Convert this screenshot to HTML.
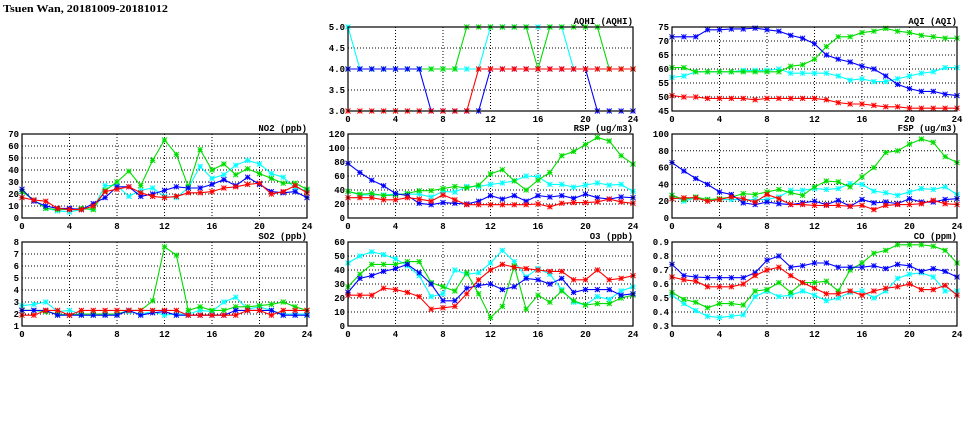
<!DOCTYPE html>
<html><head><meta charset="utf-8"><style>
html,body{margin:0;padding:0;background:#fff;width:975px;height:447px;overflow:hidden}
svg{display:block}
text{font-family:"Liberation Mono",monospace;font-weight:bold;fill:#000}
</style></head><body>
<svg id="s" width="975" height="447" xmlns="http://www.w3.org/2000/svg">
<text x="3" y="12" font-size="11" style="font-family:'Liberation Serif',serif" textLength="165" lengthAdjust="spacingAndGlyphs">Tsuen Wan, 20181009-20181012</text>
</svg>
<script>
const C={b:"#0000ff",c:"#00ffff",g:"#00dd00",r:"#ff0000"};
const P=[
{t:"AQHI (AQHI)",x:348,y:27,min:3,max:5,step:0.5,dec:1,d:{
c:[5,4,4,4,4,4,4,4,4,4,4,4,5,5,5,5,5,5,5,4,4,4,4,4,4],
g:[4,4,4,4,4,4,4,4,4,4,5,5,5,5,5,5,4,5,5,5,5,5,4,4,4],
b:[4,4,4,4,4,4,4,3,3,3,3,3,4,4,4,4,4,4,4,4,4,3,3,3,3],
r:[3,3,3,3,3,3,3,3,3,3,3,4,4,4,4,4,4,4,4,4,4,4,4,4,4]}},
{t:"AQI (AQI)",x:672,y:27,min:45,max:75,step:5,dec:0,d:{
c:[57,57.5,59,59,59,59,59.5,59.5,59.5,60,58.5,58.5,58.5,58.5,57.5,56,56.5,55.5,55.5,56.5,57.5,58.5,59,60.5,60.5],
g:[60.5,60.5,59,59,59,59,59,59,59,59,61,61.5,63.5,68,71.5,71.5,73,73.5,74.5,73.5,73,72,71.5,71,71],
b:[71.5,71.5,71.5,74,74,74.3,74.3,74.6,74,73.5,72,71,69,65,63.5,62.5,61,60,57.5,54.5,53,52,52,51,50.5],
r:[50.5,50,50,49.5,49.5,49.5,49.5,49,49.5,49.5,49.5,49.5,49.5,49,48,47.5,47.5,47,46.5,46.5,46,46,46,46,46]}},
{t:"NO2 (ppb)",x:22,y:134,min:0,max:70,step:10,dec:0,d:{
c:[22,15,8,6,5,7,8,27,27,18,23,25,18,17,25,43,33,36,44,48,45,37,34,25,23],
g:[22,15,8,7,7,8,7,23,30,39,27,48,65,53,26,57,40,45,36,41,37,33,29,29,24],
b:[24,14,10,8,8,7,12,17,26,26,18,20,23,26,25,25,28,32,27,34,28,22,21,22,17],
r:[17,15,14,8,7,7,10,22,24,26,21,18,17,18,21,21,22,25,26,28,29,20,22,27,21]}},
{t:"RSP (ug/m3)",x:348,y:134,min:0,max:120,step:20,dec:0,d:{
c:[38,33,33,33,34,34,34,30,38,37,45,45,48,50,53,60,59,48,48,44,47,50,47,48,38],
g:[38,34,35,32,33,35,39,39,42,45,43,47,63,69,53,40,54,65,89,95,105,115,110,89,77],
b:[78,65,54,46,35,32,21,19,22,21,20,24,32,27,32,24,32,30,32,28,34,29,27,30,29],
r:[29,29,29,26,26,29,27,24,33,26,19,19,19,19,19,19,20,16,21,22,22,23,27,23,21]}},
{t:"FSP (ug/m3)",x:672,y:134,min:0,max:100,step:20,dec:0,d:{
c:[27,20,24,22,22,22,22,22,22,25,33,33,35,34,35,41,40,32,30,27,31,35,34,37,28],
g:[27,22,25,22,23,25,29,28,31,34,30,27,37,44,43,37,49,60,78,80,88,94,90,73,66],
b:[66,56,47,40,31,28,18,16,19,17,16,18,20,16,21,14,22,18,19,17,23,19,19,22,23],
r:[23,24,24,20,22,25,23,19,28,23,16,16,15,15,15,14,15,10,15,16,16,17,21,17,16]}},
{t:"SO2 (ppb)",x:22,y:242,min:1,max:8,step:1,dec:0,d:{
c:[2.7,2.8,3.0,2.2,2.3,2.0,2.0,2.0,2.0,2.2,2.0,2.2,1.9,2.0,2.0,2.3,2.2,3.0,3.4,2.4,2.6,2.3,2.0,2.0,2.0],
g:[2.3,2.3,2.2,2.0,1.9,2.0,2.0,2.0,2.0,2.3,2.3,3.1,7.6,6.9,2.3,2.6,2.3,2.3,2.6,2.6,2.7,2.8,3.0,2.6,2.3],
b:[2.3,2.3,2.3,1.9,1.9,1.9,1.9,1.9,1.9,2.3,1.9,2.1,2.2,1.9,1.9,1.9,1.9,1.9,2.3,2.3,2.3,2.3,1.9,1.9,1.9],
r:[1.9,1.9,2.3,2.3,1.9,2.3,2.3,2.3,2.3,2.3,2.3,2.3,2.3,2.3,1.9,1.9,1.9,1.9,1.9,2.3,2.3,1.9,2.3,2.3,2.3]}},
{t:"O3 (ppb)",x:348,y:242,min:0,max:60,step:10,dec:0,d:{
c:[45,50,53,51,48,43,36,21,23,40,37,38,45,54,46,35,41,37,26,17,15,21,19,25,28],
g:[28,37,44,44,44,46,46,31,28,25,38,23,6,14,43,12,22,17,25,18,15,16,16,20,22],
b:[24,34,36,39,41,44,38,30,18,18,27,29,30,26,28,34,33,30,34,24,26,26,26,22,23],
r:[22,22,22,27,26,24,21,12,13,14,23,33,40,44,42,41,40,39,39,33,33,40,33,34,36]}},
{t:"CO (ppm)",x:672,y:242,min:0.3,max:0.9,step:0.1,dec:1,d:{
c:[.52,.46,.41,.37,.36,.37,.38,.51,.55,.51,.52,.55,.52,.48,.50,.54,.55,.50,.55,.64,.67,.68,.65,.55,.55],
g:[.54,.49,.47,.43,.46,.46,.45,.55,.56,.61,.54,.61,.61,.62,.55,.70,.75,.82,.84,.88,.88,.88,.87,.84,.75],
b:[.74,.66,.65,.645,.645,.645,.645,.68,.77,.80,.72,.73,.75,.75,.72,.72,.72,.73,.71,.74,.73,.69,.71,.69,.65],
r:[.65,.63,.62,.58,.58,.58,.60,.66,.70,.72,.66,.61,.57,.53,.53,.55,.52,.55,.57,.58,.60,.56,.56,.59,.52]}}
];
const W=285,H=84;let o="";
for(const p of P){
 const X=i=>p.x+i*W/24, Y=v=>p.y+H-(v-p.min)/(p.max-p.min)*H;
 o+=`<text x="${p.x+W}" y="${p.y-3}" font-size="9" text-anchor="end">${p.t}</text>`;
 const n=Math.round((p.max-p.min)/p.step);
 for(let k=0;k<=n;k++){const v=p.min+k*p.step,y=Y(v);
  if(k>0&&k<n)o+=`<line x1="${p.x}" x2="${p.x+W}" y1="${y}" y2="${y}" stroke="#000" stroke-width="1" stroke-dasharray="1,2"/>`;
  o+=`<text x="${p.x-3}" y="${y+3}" font-size="9" text-anchor="end">${v.toFixed(p.dec)}</text>`;}
 for(let h=0;h<=24;h+=4){const x=X(h);
  if(h>0&&h<24)o+=`<line x1="${x}" x2="${x}" y1="${p.y}" y2="${p.y+H}" stroke="#000" stroke-dasharray="1,2"/>`;
  o+=`<text x="${x}" y="${p.y+H+11}" font-size="9" text-anchor="middle">${h}</text>`;}
 for(const k of ["c","g","b","r"]){const a=p.d[k];
  o+=`<polyline fill="none" stroke="${C[k]}" stroke-width="1.1" points="${a.map((v,i)=>X(i)+","+Y(v)).join(" ")}"/>`;
  for(let i=0;i<a.length;i++){const x=X(i),y=Y(a[i]),s=2.5;
   o+=`<path d="M${x-s} ${y-s}L${x+s} ${y+s}M${x-s} ${y+s}L${x+s} ${y-s}M${x-s} ${y}H${x+s}M${x} ${y-s}V${y+s}" stroke="${C[k]}" stroke-width="1"/>`;}}
 o+=`<rect x="${p.x}" y="${p.y}" width="${W}" height="${H}" fill="none" stroke="#000" stroke-width="1.2"/>`;
}
document.getElementById("s").insertAdjacentHTML("beforeend",o);
</script>
</body></html>
